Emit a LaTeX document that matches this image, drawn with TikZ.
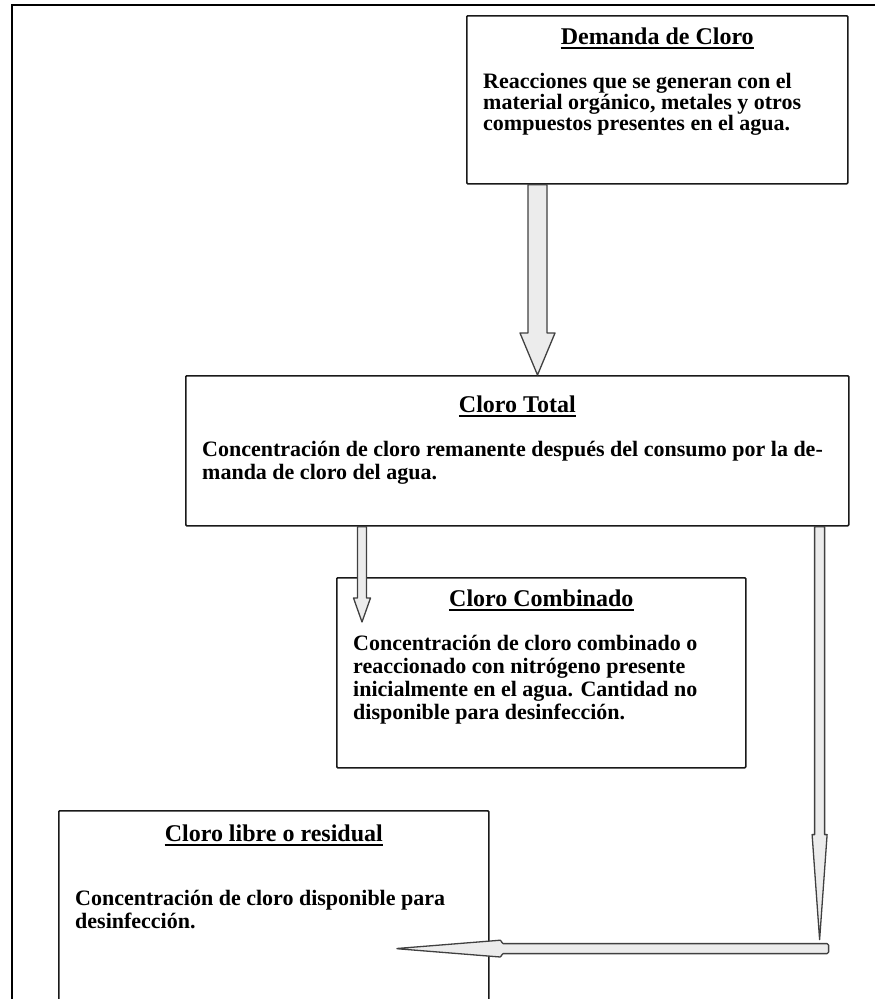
\documentclass[tikz,border=0pt]{standalone}
\usepackage{fontspec}
\setmainfont{Liberation Serif}
\usetikzlibrary{positioning}
\usetikzlibrary{calc}

\tikzset{
  caja/.style={draw=black!90, line width=1.6pt, rounded corners=1pt, anchor=north west, inner sep=0pt},
  titulo/.style={font=\fontsize{24}{24}\selectfont\bfseries, inner sep=0pt, anchor=base},
  texto/.style={font=\fontsize{22}{22.5}\selectfont\bfseries, inner sep=0pt, anchor=base west, align=left},
  subrayado/.style={line width=2.2pt},
  flecha/.style={draw=black!75, line width=1.3pt, fill=gray!15, line join=round},
  marco/.style={line width=1.6pt}
}

% flecha vertical: inicio, punta, medio tallo, media punta, largo punta
\newcommand{\flechav}[5]{\draw[flecha] ($(#1)+(-#3,0)$) -- ($(#2)+(-#3,-#5)$) -- ($(#2)+(-#4,-#5)$) -- (#2) -- ($(#2)+(#4,-#5)$) -- ($(#2)+(#3,-#5)$) -- ($(#1)+(#3,0)$) -- cycle;}
% flecha horizontal hacia la izquierda
\newcommand{\flechah}[5]{\draw[flecha, rounded corners=1.5pt] ($(#1)+(0,-#3)$) -- ($(#2)+(#5,-#3)$) -- ($(#2)+(#5,-#4)$) -- (#2) -- ($(#2)+(#5,#4)$) -- ($(#2)+(#5,#3)$) -- ($(#1)+(0,#3)$) -- cycle;}

\begin{document}
\begin{tikzpicture}[x=1pt,y=-1pt]
\useasboundingbox (0,0) rectangle (875,999);
\draw[marco] (12,999) -- (12,5) -- (875,5);

% cajas
\node (demanda) at (466,15) [caja, minimum width=381pt, minimum height=168pt]{};
\node (total) at (185,375) [caja, minimum width=663pt, minimum height=150pt]{};
\node (combinado) at (336,577) [caja, minimum width=409pt, minimum height=190pt]{};
\node (libre) at (58,810) [caja, minimum width=430pt, minimum height=220pt]{};

% titulos
\node (demandaT) at ([yshift=-29pt]demanda.north) [titulo]{Demanda de Cloro};
\node (totalT) at ([yshift=-37pt]total.north) [titulo]{Cloro Total};
\node (combinadoT) at ([yshift=-29pt]combinado.north) [titulo]{Cloro Combinado};
\node (libreT) at ([yshift=-31pt]libre.north) [titulo]{Cloro libre o residual};
\foreach \t in {demandaT,totalT,combinadoT,libreT}
  \draw[subrayado] ([yshift=-4pt]\t.base west) -- ([yshift=-4pt]\t.base east);

% textos (base = ultima linea)
\node (demandaX) at ([xshift=17pt,yshift=-115pt]demanda.north west) [texto, font=\fontsize{22}{21}\selectfont\bfseries]{Reacciones que se generan con el\\material orgánico, metales y otros\\compuestos presentes en el agua.};
\node (totalX) at ([xshift=17pt,yshift=-104pt]total.north west) [texto]{Concentración de cloro remanente después del consumo por la de-\\manda de cloro del agua.};
\node (combinadoX) at ([xshift=17pt,yshift=-142pt]combinado.north west) [texto, font=\fontsize{22}{23}\selectfont\bfseries]{Concentración de cloro combinado o\\reaccionado con nitrógeno presente\\inicialmente en el agua. Cantidad no\\disponible para desinfección.};
\node (libreX) at ([xshift=17pt,yshift=-118pt]libre.north west) [texto, font=\fontsize{22}{23}\selectfont\bfseries]{Concentración de cloro disponible para\\desinfección.};

% flechas
\coordinate (f1a) at ([xshift=71.5pt]demanda.south west);
\coordinate (f1b) at (f1a |- total.north);
\flechav{f1a}{f1b}{9.5}{17.5}{42}

\coordinate (f2a) at ([xshift=177pt]total.south west);
\path (f2a |- combinado.north) ++(0,45) coordinate (f2b);
\flechav{f2a}{f2b}{4.5}{8.5}{24}

\coordinate (f3a) at ([xshift=-30pt]total.south east);
\path (f3a) ++(0,413) coordinate (f3b);
\flechav{f3a}{f3b}{5}{7.5}{105}

\path (f3b) ++(9,9) coordinate (h1);
\path (h1 -| libre.east) ++(-94,0) coordinate (h2);
\flechah{h1}{h2}{5}{8.5}{106}

\end{tikzpicture}
\end{document}
